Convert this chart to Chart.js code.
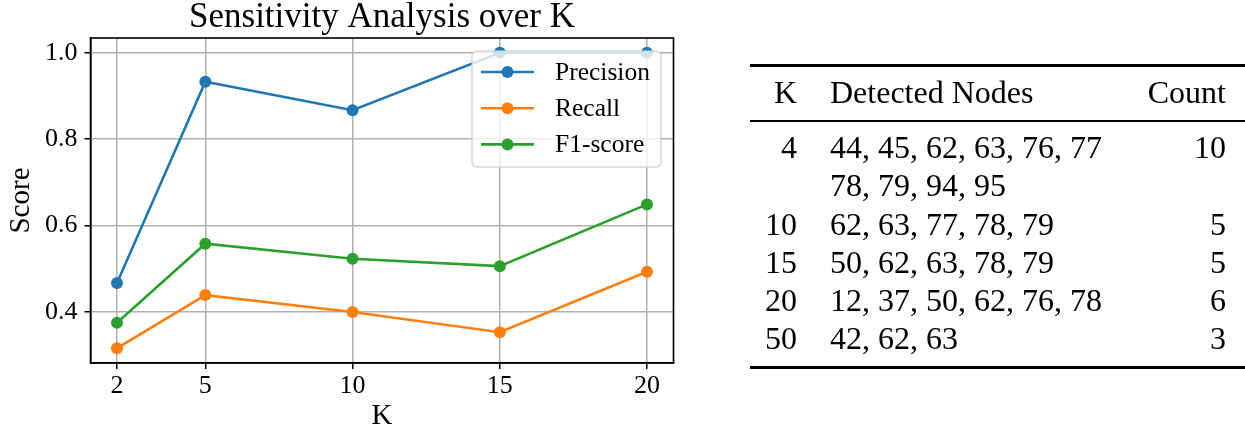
<!DOCTYPE html>
<html>
<head>
<meta charset="utf-8">
<title>Sensitivity Analysis over K</title>
<script src="https://cdn.jsdelivr.net/npm/chart.js@4"></script>
<style>
    body { margin: 0; background: #fff; }
    #page { position: relative; width: 1245px; height: 431px; overflow: hidden; }
    #chartBox { position: absolute; left: 0; top: 0; width: 700px; height: 431px; }
    #nodesTable { position: absolute; left: 0; top: 0; width: 1245px; height: 431px;
        font-family: 'Liberation Serif', 'Times New Roman', serif; font-size: 32px; color: #000; }
    #nodesTable .cell { position: absolute; line-height: 32px; white-space: pre; }
    #nodesTable .rule { position: absolute; left: 750px; width: 495px; background: #000; }
</style>
</head>
<body>
<div id="page">
    <div id="chartBox"><canvas id="sensitivityChart" width="700" height="431"></canvas></div>
    <div id="nodesTable"></div>
</div>
<script>
// scores per K
const kValues = [2, 5, 10, 15, 20];
const precision = [0.467, 0.933, 0.867, 1.0, 1.0];
const recall = [0.316, 0.439, 0.400, 0.353, 0.493];
const f1Score = [0.375, 0.558, 0.523, 0.506, 0.649];
const xTicks = [2, 5, 10, 15, 20];
const yTicks = [0.4, 0.6, 0.8, 1.0];

// detected nodes table
const tableHeader = ['K', 'Detected Nodes', 'Count'];
const tableK = [4, 10, 15, 20, 50];
const tableNodes = [
    [44, 45, 62, 63, 76, 77, 78, 79, 94, 95],
    [62, 63, 77, 78, 79],
    [50, 62, 63, 78, 79],
    [12, 37, 50, 62, 76, 78],
    [42, 62, 63]
];
const tableCount = [10, 5, 5, 6, 3];

const FONT = "'Liberation Serif', 'Times New Roman', serif";
const COLORS = ['#1f77b4', '#ff7f0e', '#2ca02c'];

// matplotlib-like 5% margins
function paddedRange(values) {
    const lo = Math.min(...values), hi = Math.max(...values);
    const pad = (hi - lo) * 0.05;
    return [lo - pad, hi + pad];
}
const [xMin, xMax] = paddedRange(kValues);
const [yMin, yMax] = paddedRange([...precision, ...recall, ...f1Score]);

function makeSeries(label, values, color) {
    return {
        label: label,
        data: kValues.map((k, i) => ({ x: k, y: values[i] })),
        borderColor: color,
        backgroundColor: color,
        borderWidth: 2.6,
        pointRadius: 6,
        pointHoverRadius: 6,
        pointBorderWidth: 0,
        tension: 0
    };
}

// full box around the plot
const frame = {
    id: 'frame',
    afterDraw(chart) {
        const { ctx, chartArea: a } = chart;
        ctx.save();
        ctx.strokeStyle = '#000';
        ctx.lineWidth = 1.6;
        ctx.strokeRect(a.left, a.top, a.right - a.left, a.bottom - a.top);
        ctx.restore();
    }
};

// legend in the upper right corner, inside the axes
const insideLegend = {
    id: 'insideLegend',
    afterDatasetsDraw(chart) {
        const { ctx, chartArea: a } = chart;
        const bx = a.right - 201.5, by = a.top + 13, bw = 189, bh = 116;
        ctx.save();
        ctx.beginPath();
        ctx.roundRect(bx, by, bw, bh, 5);
        ctx.fillStyle = 'rgba(255,255,255,0.8)';
        ctx.fill();
        ctx.strokeStyle = 'rgba(204,204,204,0.8)';
        ctx.lineWidth = 1.5;
        ctx.stroke();

        ctx.font = '25.5px ' + FONT;
        ctx.textBaseline = 'middle';
        ctx.fillStyle = '#000';
        chart.data.datasets.forEach((ds, i) => {
            const y = by + 21 + i * 36.2;
            ctx.strokeStyle = ds.borderColor;
            ctx.lineWidth = ds.borderWidth;
            ctx.beginPath();
            ctx.moveTo(bx + 9, y);
            ctx.lineTo(bx + 62, y);
            ctx.stroke();
            ctx.beginPath();
            ctx.arc(bx + 35.5, y, ds.pointRadius, 0, Math.PI * 2);
            ctx.fillStyle = ds.backgroundColor;
            ctx.fill();
            ctx.fillStyle = '#000';
            ctx.fillText(ds.label, bx + 83, y + 1);
        });
        ctx.restore();
    }
};

new Chart(document.getElementById('sensitivityChart'), {
    type: 'line',
    data: {
        datasets: [
            makeSeries('Precision', precision, COLORS[0]),
            makeSeries('Recall', recall, COLORS[1]),
            makeSeries('F1-score', f1Score, COLORS[2])
        ]
    },
    options: {
        responsive: false,
        animation: false,
        events: [],
        layout: { padding: { left: 0, right: 26.5, top: 0, bottom: 0 } },
        scales: {
            x: {
                type: 'linear',
                min: xMin,
                max: xMax,
                afterBuildTicks: scale => { scale.ticks = xTicks.map(v => ({ value: v })); },
                afterFit: scale => { scale.height = 68; },
                ticks: {
                    color: '#000',
                    font: { family: FONT, size: 26 },
                    padding: 2,
                    maxRotation: 0,
                    callback: v => String(v)
                },
                grid: { color: '#b0b0b0', lineWidth: 1.5, tickColor: '#000', tickLength: 6, tickWidth: 1.5 },
                border: { color: '#000', width: 1.6 },
                title: {
                    display: true,
                    text: 'K',
                    color: '#000',
                    font: { family: FONT, size: 29, lineHeight: 1 },
                    padding: { top: 0, bottom: 0 }
                }
            },
            y: {
                min: yMin,
                max: yMax,
                afterBuildTicks: scale => { scale.ticks = yTicks.map(v => ({ value: v })); },
                afterFit: scale => { scale.width = 90.5; },
                ticks: {
                    color: '#000',
                    font: { family: FONT, size: 26 },
                    padding: 7,
                    callback: v => v.toFixed(1)
                },
                grid: { color: '#b0b0b0', lineWidth: 1.5, tickColor: '#000', tickLength: 6, tickWidth: 1.5 },
                border: { color: '#000', width: 1.6 },
                title: {
                    display: true,
                    text: 'Score',
                    color: '#000',
                    font: { family: FONT, size: 29, lineHeight: 1 },
                    padding: { top: 7, bottom: 0 }
                }
            }
        },
        plugins: {
            legend: { display: false },
            tooltip: { enabled: false },
            title: {
                display: true,
                fullSize: false,
                text: 'Sensitivity Analysis over K',
                color: '#000',
                font: { family: FONT, size: 35, weight: 'normal', lineHeight: 1 },
                padding: { top: 0, bottom: 3 }
            }
        }
    },
    plugins: [insideLegend, frame]
});

// table with booktabs-style rules
function buildTable() {
    const host = document.getElementById('nodesTable');
    const baselineOffset = 26.8;

    function rule(top, height) {
        const r = document.createElement('div');
        r.className = 'rule';
        r.style.top = top + 'px';
        r.style.height = height + 'px';
        host.appendChild(r);
    }
    function cell(text, baseline, left, width, align) {
        const c = document.createElement('div');
        c.className = 'cell';
        c.textContent = text;
        c.style.top = (baseline - baselineOffset) + 'px';
        c.style.left = left + 'px';
        if (width) c.style.width = width + 'px';
        c.style.textAlign = align;
        host.appendChild(c);
    }
    function row(k, nodes, count, baseline) {
        cell(k, baseline, 700, 97, 'right');
        cell(nodes, baseline, 830, 0, 'left');
        cell(count, baseline, 1026, 200, 'right');
    }

    rule(64, 3);
    row(tableHeader[0], tableHeader[1], tableHeader[2], 103);
    rule(119.5, 2);

    let baseline = 158;
    const step = 38.2;
    tableK.forEach((k, i) => {
        const nodes = tableNodes[i];
        const lines = [];
        for (let j = 0; j < nodes.length; j += 6) lines.push(nodes.slice(j, j + 6).join(', '));
        lines.forEach((line, j) => {
            row(j === 0 ? String(k) : '', line, j === 0 ? String(tableCount[i]) : '', baseline);
            baseline += step;
        });
    });
    rule(366, 3);
}
buildTable();
</script>
</body>
</html>
